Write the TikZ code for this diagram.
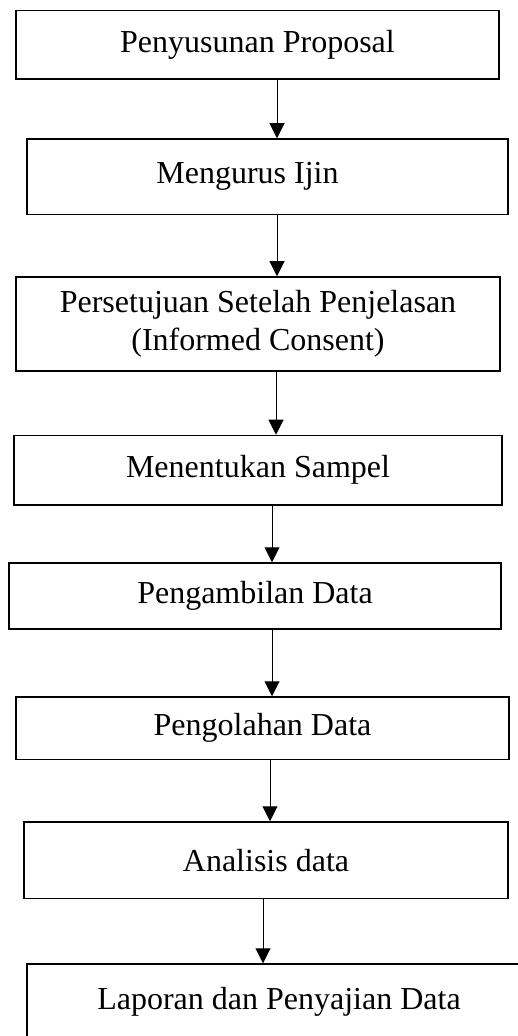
\documentclass[tikz,border=0pt]{standalone}
\usepackage{fontspec}
\setmainfont{Liberation Serif}
\usetikzlibrary{arrows.meta,positioning}

\begin{document}
\begin{tikzpicture}
      [x = 0.5pt, y = -0.5pt,
      box/.style= {
         draw,
         rectangle,
         line width = 0.75pt,
         inner sep = 0pt,
         align = center,
         font = \fontsize{16}{19}\selectfont
      },
      flow/.style= {
         line width = 0.5pt,
         -{Triangle[width = 7.5pt, length = 7.5pt]}
      }]

      \useasboundingbox (0, 0) rectangle (518, 1036);

      \node (proposal) at (257.5, 44.75) [box, minimum width = 241.5pt, minimum height = 34.25pt] {Penyusunan Proposal};
      \node (ijin) at (267.5, 176.75) [box, minimum width = 240.5pt, minimum height = 37.75pt] {Mengurus Ijin\hspace*{20pt}};
      \node (consent) at (258, 324) [box, minimum width = 242pt, minimum height = 47pt] {Persetujuan Setelah Penjelasan\\(Informed Consent)};
      \node (sampel) at (258, 470.25) [box, minimum width = 244pt, minimum height = 34.75pt] {Menentukan Sampel};
      \node (ambil) at (255, 596) [box, minimum width = 246pt, minimum height = 33pt] {Pengambilan Data};
      \node (olah) at (262.5, 728.25) [box, minimum width = 246.5pt, minimum height = 31.25pt] {Pengolahan Data};
      \node (analisis) at (266, 860.25) [box, minimum width = 242pt, minimum height = 38.25pt] {Analisis data};
      \node (laporan) at (279, 1002) [box, minimum width = 252pt, minimum height = 38pt] {Laporan dan Penyajian Data};

      \draw[flow] (proposal.south -| 277, 0) -- (ijin.north -| 277, 0);
      \draw[flow] (ijin.south -| 277, 0) -- (consent.north -| 277, 0);
      \draw[flow] (consent.south -| 276, 0) -- (sampel.north -| 276, 0);
      \draw[flow] (sampel.south -| 272, 0) -- (ambil.north -| 272, 0);
      \draw[flow] (ambil.south -| 272, 0) -- (olah.north -| 272, 0);
      \draw[flow] (olah.south -| 270, 0) -- (analisis.north -| 270, 0);
      \draw[flow] (analisis.south -| 263, 0) -- (laporan.north -| 263, 0);

   \end{tikzpicture}
\end{document}
